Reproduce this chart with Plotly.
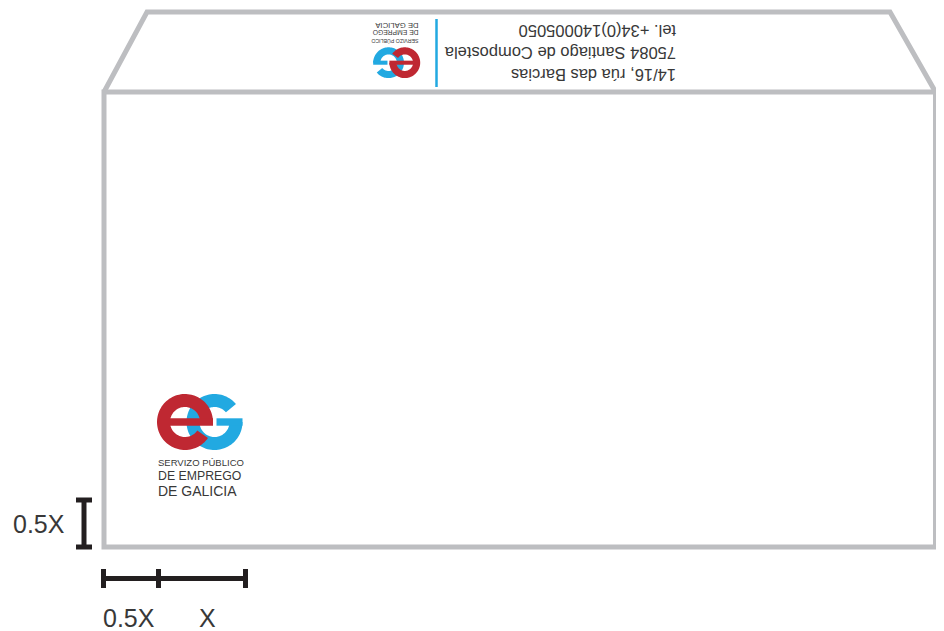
import numpy as np
import plotly.graph_objects as go

W, H = 944, 631
PAGE_OFFSET = 8  # default body margin of the html page

# ---- text content -------------------------------------------------------
ADDRESS_LINES = ["14/16, rúa das Barcias", "75084 Santiago de Compostela", "tel. +34(0)140005050"]
ADDRESS_Y = [75, 53, 31]
ADDRESS_RIGHT_X = 678
ADDRESS_SIZE = 16.5

LOGO_LINES = ["SERVIZO PÚBLICO", "DE EMPREGO", "DE GALICIA"]
LOGO_LINE_Y = [462.5, 476, 491]
LOGO_LINE_SIZE = [9.5, 12.3, 14]
LOGO_TEXT_LEFT = 157

DIM_LABELS = ["0.5X", "0.5X", "X"]
DIM_LABEL_X = [39, 129, 207]
DIM_LABEL_Y = [524, 617.5, 617.5]
DIM_LABEL_SIZE = 25

# ---- geometry ------------------------------------------------------------
ENV_LEFT, ENV_RIGHT, ENV_TOP, ENV_BOTTOM = 104, 935.5, 92, 547
FLAP_TOP_Y, FLAP_TOP_LEFT, FLAP_TOP_RIGHT = 12, 147, 890
ENV_COLOR = "#BDBEC1"
ENV_WIDTH = 5

DIM_COLOR = "#231F20"
DIM_WIDTH = 5

RED = "#BF2832"
BLUE = "#22A9E1"
TEXT_COLOR = "#383838"

# logo (big, bottom-left) local geometry, relative to red ring centre
LOGO_ORIGIN = (185, 422)
R_OUT, R_IN = 28, 15
BLUE_DX = 29.5
BAR_HALF = 3.7
RED_ARC = (0, 325)
BLUE_ARC = (40, 360)

# small rotated logo
BIG_CENTER = (201, 446)
SMALL_CENTER = (396, 49.5)
SMALL_SCALE = 0.55

shapes = []
annotations = []


def path_from(points, close=True):
    s = "M " + " L ".join(f"{x:.2f},{y:.2f}" for x, y in points)
    return s + (" Z" if close else "")


def sector_pts(cx, cy, ro, ri, a1, a2, n=90):
    a = np.radians(np.linspace(a1, a2, n))
    outer = [(cx + ro * np.cos(t), cy - ro * np.sin(t)) for t in a]
    inner = [(cx + ri * np.cos(t), cy - ri * np.sin(t)) for t in a[::-1]]
    return outer + inner


def rect_pts(x0, x1, y0, y1):
    return [(x0, y0), (x1, y0), (x1, y1), (x0, y1)]


def big_T(p):
    return (LOGO_ORIGIN[0] + p[0], LOGO_ORIGIN[1] + p[1])


def small_T(p):
    bx, by = big_T(p)
    return (SMALL_CENTER[0] - SMALL_SCALE * (bx - BIG_CENTER[0]),
            SMALL_CENTER[1] - SMALL_SCALE * (by - BIG_CENTER[1]))


def add_logo(T):
    parts = [
        (sector_pts(BLUE_DX, 0, R_OUT, R_IN, *BLUE_ARC), BLUE),
        (rect_pts(BLUE_DX + 2, BLUE_DX + R_OUT, -BAR_HALF, BAR_HALF), BLUE),
        (sector_pts(0, 0, R_OUT, R_IN, *RED_ARC), RED),
        (rect_pts(-R_IN - 0.5, R_OUT, -BAR_HALF, BAR_HALF), RED),
    ]
    for pts, col in parts:
        shapes.append(dict(type="path", xref="x", yref="y",
                           path=path_from([T(p) for p in pts]),
                           fillcolor=col, line=dict(width=0), layer="above"))


# envelope
shapes.append(dict(type="path", xref="x", yref="y",
                   path=path_from([(ENV_LEFT, ENV_TOP), (FLAP_TOP_LEFT, FLAP_TOP_Y),
                                   (FLAP_TOP_RIGHT, FLAP_TOP_Y), (ENV_RIGHT, ENV_TOP)], close=False),
                   line=dict(color=ENV_COLOR, width=ENV_WIDTH)))
shapes.append(dict(type="rect", xref="x", yref="y", x0=ENV_LEFT, x1=ENV_RIGHT,
                   y0=ENV_TOP, y1=ENV_BOTTOM, line=dict(color=ENV_COLOR, width=ENV_WIDTH)))

# logos
add_logo(big_T)
add_logo(small_T)

# blue divider in the flap
shapes.append(dict(type="line", xref="x", yref="y", x0=436.5, x1=436.5, y0=19, y1=87,
                   line=dict(color=BLUE, width=2.5)))

# dimension markers
def seg(x0, y0, x1, y1):
    shapes.append(dict(type="line", xref="x", yref="y", x0=x0, y0=y0, x1=x1, y1=y1,
                       line=dict(color=DIM_COLOR, width=DIM_WIDTH)))

seg(84, 498, 84, 549)
seg(76, 500, 92, 500)
seg(76, 547, 92, 547)
seg(101, 578.5, 248, 578.5)
for tx in (103.5, 158.5, 245.5):
    seg(tx, 569, tx, 588)

# logo text (big)
for txt, y, sz in zip(LOGO_LINES, LOGO_LINE_Y, LOGO_LINE_SIZE):
    annotations.append(dict(x=LOGO_TEXT_LEFT - 1, y=y, xref="x", yref="y", text=txt,
                            showarrow=False, xanchor="left", yanchor="middle",
                            font=dict(family="Liberation Sans", size=sz, color=TEXT_COLOR)))
# logo text (small, rotated)
for txt, y, sz in zip(LOGO_LINES, LOGO_LINE_Y, LOGO_LINE_SIZE):
    sx, sy = small_T((LOGO_TEXT_LEFT - 1 - LOGO_ORIGIN[0], y - LOGO_ORIGIN[1]))
    annotations.append(dict(x=sx, y=sy, xref="x", yref="y", text=txt, textangle=180,
                            showarrow=False, xanchor="right", yanchor="middle",
                            font=dict(family="Liberation Sans", size=sz * SMALL_SCALE, color=TEXT_COLOR)))

# address (upside down)
for txt, y in zip(ADDRESS_LINES, ADDRESS_Y):
    annotations.append(dict(x=ADDRESS_RIGHT_X, y=y, xref="x", yref="y", text=txt, textangle=180,
                            showarrow=False, xanchor="right", yanchor="middle",
                            font=dict(family="Liberation Sans", size=ADDRESS_SIZE, color=TEXT_COLOR)))

# dimension labels
for txt, x, y in zip(DIM_LABELS, DIM_LABEL_X, DIM_LABEL_Y):
    annotations.append(dict(x=x, y=y, xref="x", yref="y", text=txt, showarrow=False,
                            xanchor="center", yanchor="middle",
                            font=dict(family="Liberation Sans", size=DIM_LABEL_SIZE, color=TEXT_COLOR)))

fig = go.Figure()
fig.add_trace(go.Scatter(x=[PAGE_OFFSET, W], y=[PAGE_OFFSET, H], mode="markers",
                         marker=dict(opacity=0), hoverinfo="skip", showlegend=False))
fig.update_layout(
    width=W, height=H, margin=dict(l=0, r=0, t=0, b=0),
    paper_bgcolor="white", plot_bgcolor="white",
    xaxis=dict(range=[PAGE_OFFSET, W + PAGE_OFFSET], visible=False, fixedrange=True),
    yaxis=dict(range=[H + PAGE_OFFSET, PAGE_OFFSET], visible=False, fixedrange=True),
    shapes=shapes, annotations=annotations, showlegend=False,
)
fig.write_html("out.html", config={"displayModeBar": False})
